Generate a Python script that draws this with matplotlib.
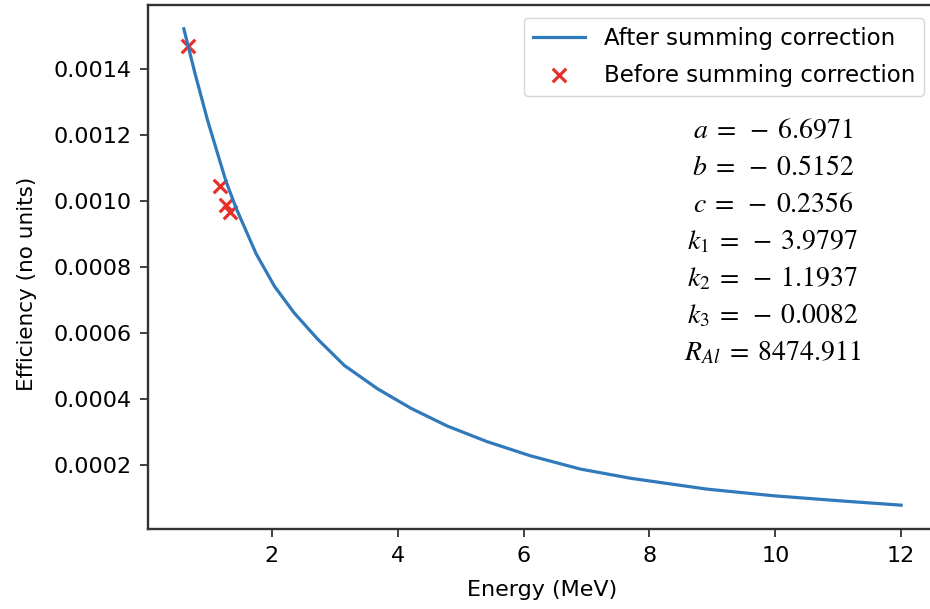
import matplotlib
matplotlib.use('Agg')
import matplotlib.pyplot as plt

# fitted efficiency curve
curve_energy = [0.60, 0.78, 0.98, 1.27, 1.43, 1.75, 2.04, 2.35, 2.72, 3.15, 3.68,
                4.21, 4.79, 5.42, 6.11, 6.90, 7.70, 8.92, 9.97, 11.03, 12.0]
curve_eff = [0.001522, 0.001385, 0.001243, 0.001060, 0.000979, 0.000840, 0.000742,
             0.000662, 0.000583, 0.000502, 0.000431, 0.000372, 0.000318,
             0.000271, 0.000228, 0.000188, 0.000160, 0.000127, 0.000107,
             0.0000916, 0.0000785]

# measured points before summing correction
meas_energy = [0.662, 1.173, 1.275, 1.332]
meas_eff = [0.001471, 0.001045, 0.000989, 0.000966]

fit_labels = [r'$a\;=\;-\;6.6971$', r'$b\;=\;-\;0.5152$', r'$c\;=\;-\;0.2356$',
              r'$k_1\;=\;-\;3.9797$', r'$k_2\;=\;-\;1.1937$', r'$k_3\;=\;-\;0.0082$',
              r'$R_{Al}\;=\;8474.911$']

plt.rcParams['mathtext.fontset'] = 'stix'

fig = plt.figure(figsize=(9.3, 6.09), dpi=100)
ax = fig.add_axes([0.1591, 0.1314, 0.8484, 0.8604])

ax.plot(curve_energy, curve_eff, color='#3079bb', linewidth=2.3, label='After summing correction')
ax.scatter(meas_energy, meas_eff, marker='x', color='#e8302a', s=95, linewidths=2.3,
           label='Before summing correction')

ax.set_xlabel('Energy (MeV)', fontsize=16)
ax.set_ylabel('Efficiency (no units)', fontsize=15.5)
ax.xaxis.set_label_coords(0.5, -0.097)
ax.yaxis.set_label_coords(-0.141, 0.468)
ax.tick_params(labelsize=16, length=6, width=1.3, pad=6, color='#333333')
ax.set_xticks([2, 4, 6, 8, 10, 12])
ax.set_yticks([0.0002, 0.0004, 0.0006, 0.0008, 0.0010, 0.0012, 0.0014])
ax.set_yticklabels(['0.0002', '0.0004', '0.0006', '0.0008', '0.0010', '0.0012', '0.0014'])
for s in ax.spines.values():
    s.set_linewidth(1.7)
    s.set_color('#333333')

leg = ax.legend(loc='upper right', fontsize=16.5, handlelength=2.3, labelspacing=0.6,
                borderaxespad=0.55)

for i, t in enumerate(fit_labels):
    ax.text(0.792, 0.746 - i * 0.0706, t, transform=ax.transAxes,
            ha='center', va='baseline', fontsize=20)

plt.savefig('out.png', dpi=100)
